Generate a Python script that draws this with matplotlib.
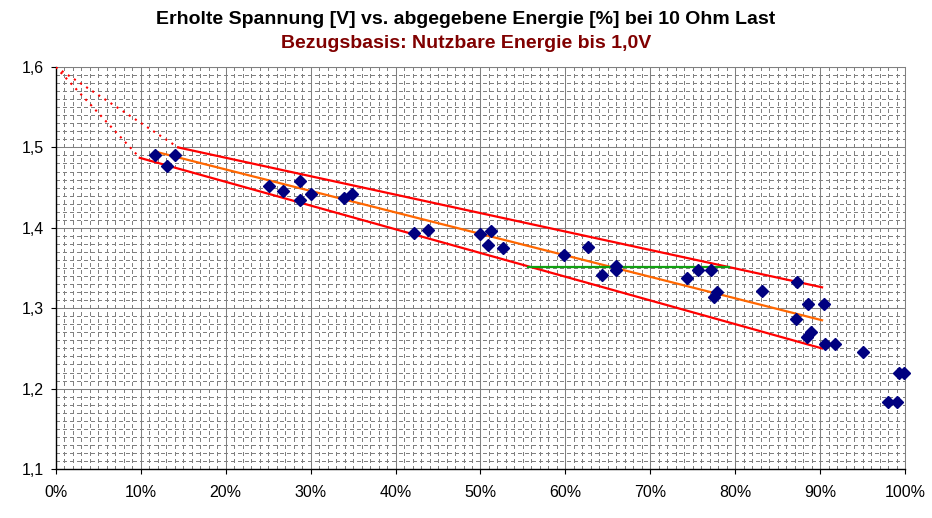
import matplotlib
matplotlib.use("Agg")
import matplotlib.pyplot as plt
from matplotlib.ticker import MultipleLocator, FuncFormatter

# Measured points: energy delivered [%] vs recovered voltage [V]
energie_pct = [11.7, 13.1, 14.1, 25.1, 26.8, 28.8, 28.8, 30.0, 33.9, 34.9,
               42.2, 43.8, 50.0, 50.9, 51.2, 52.7, 59.8, 62.6, 64.3, 65.9,
               66.0, 74.3, 75.6, 77.1, 77.5, 77.8, 83.1, 87.2, 87.1, 88.4,
               88.9, 88.6, 90.4, 90.6, 91.7, 95.0, 99.2, 99.8, 98.0, 99.0]
spannung_v = [1.490, 1.477, 1.490, 1.452, 1.446, 1.458, 1.434, 1.442, 1.437, 1.442,
              1.393, 1.397, 1.392, 1.378, 1.396, 1.375, 1.366, 1.376, 1.341, 1.347,
              1.352, 1.337, 1.348, 1.347, 1.314, 1.320, 1.321, 1.332, 1.286, 1.264,
              1.271, 1.305, 1.305, 1.255, 1.255, 1.245, 1.219, 1.219, 1.183, 1.183]

# Trend / envelope lines (start and end points)
trend_x = [11.8, 90.2]
trend_y = [1.4945, 1.285]
upper_x = [14.4, 90.2]
upper_y = [1.500, 1.326]
lower_x = [9.9, 90.2]
lower_y = [1.487, 1.250]
green_x = [55.6, 79.2]
green_y = [1.351, 1.351]
dot_upper_x = [0.0, 14.4]
dot_upper_y = [1.600, 1.500]
dot_lower_x = [0.0, 9.9]
dot_lower_y = [1.600, 1.487]

title1 = "Erholte Spannung [V] vs. abgegebene Energie [%] bei 10 Ohm Last"
title2 = "Bezugsbasis: Nutzbare Energie bis 1,0V"

plt.rcParams['font.family'] = ['Liberation Sans', 'DejaVu Sans']

fig = plt.figure(figsize=(9.32, 5.18), dpi=100)
ax = fig.add_axes([55.7/932, 49/518, (905.3-55.7)/932, 402/518])

ax.set_xlim(0, 100)
ax.set_ylim(1.1, 1.6)
ax.xaxis.set_major_locator(MultipleLocator(10))
ax.xaxis.set_minor_locator(MultipleLocator(1))
ax.yaxis.set_major_locator(MultipleLocator(0.1))
ax.yaxis.set_minor_locator(MultipleLocator(0.01))
ax.xaxis.set_major_formatter(FuncFormatter(lambda v, p: f"{int(round(v))}%"))
ax.yaxis.set_major_formatter(FuncFormatter(lambda v, p: f"{v:.1f}".replace('.', ',')))

ax.set_axisbelow(True)
ax.grid(which='major', color='#808080', linewidth=0.75, linestyle='-')
ax.grid(which='minor', color='#808080', linewidth=0.75, linestyle=(0, (3.8, 2.9)),
        antialiased=False)
ax.tick_params(which='minor', length=0)
ax.tick_params(which='major', length=3.6, width=0.8, direction='out', labelsize=11.5,
               colors='black')
ax.tick_params(axis='x', pad=8)
ax.tick_params(axis='y', pad=5)

for s in ['left', 'bottom']:
    ax.spines[s].set_color('black')
    ax.spines[s].set_linewidth(1.0)
for s in ['top', 'right']:
    ax.spines[s].set_color('#808080')
    ax.spines[s].set_linewidth(0.75)

ax.plot(dot_upper_x, dot_upper_y, color='#ff0000', linewidth=1.5, linestyle=(0, (1, 2.5)), zorder=3)
ax.plot(dot_lower_x, dot_lower_y, color='#ff0000', linewidth=1.5, linestyle=(0, (1, 2.5)), zorder=3)
ax.plot(upper_x, upper_y, color='#ff0000', linewidth=1.6, zorder=3)
ax.plot(lower_x, lower_y, color='#ff0000', linewidth=1.6, zorder=3)
ax.plot(trend_x, trend_y, color='#ff6600', linewidth=1.6, zorder=3)
ax.plot(green_x, green_y, color='#10a010', linewidth=1.6, zorder=3)

ax.plot(energie_pct, spannung_v, linestyle='none', marker='D', markersize=6,
        color='#000080', markeredgecolor='#000080', zorder=4, clip_on=False)

fig.text(0.5, 1 - 20/518, title1, ha='center', va='center', fontsize=14,
         fontweight='bold', color='black')
fig.text(0.5, 1 - 44/518, title2, ha='center', va='center', fontsize=14,
         fontweight='bold', color='#800000')

fig.savefig('out.png', dpi=100)
